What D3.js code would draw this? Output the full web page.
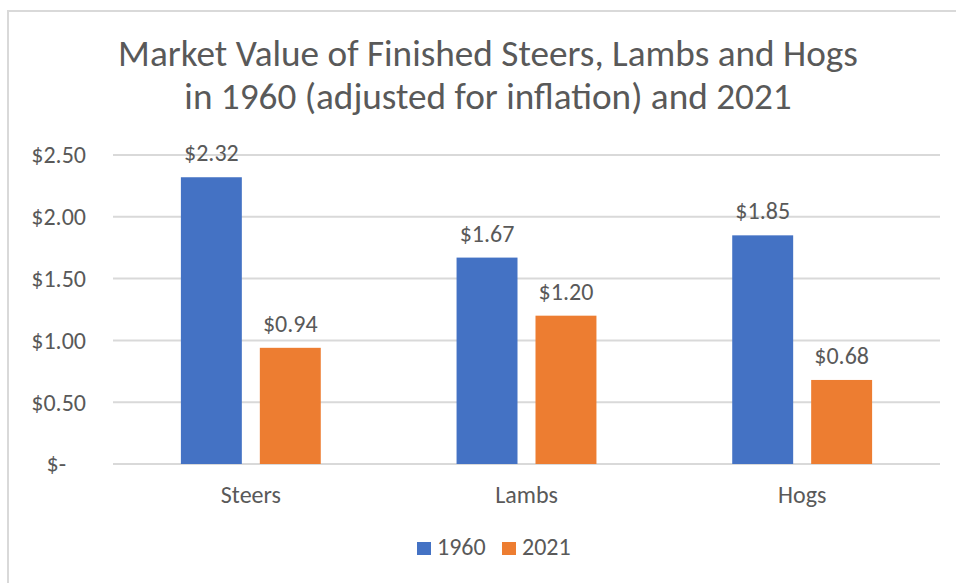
<!DOCTYPE html>
<meta charset="utf-8">
<body style="margin:0;background:#fff">
<script src="https://cdn.jsdelivr.net/npm/d3@7"></script>
<script>

var categories = ['Steers', 'Lambs', 'Hogs'];
var series = ['1960', '2021'];
var values1960 = [2.32, 1.67, 1.85];
var values2021 = [0.94, 1.20, 0.68];
var yTicks = [0, 0.5, 1, 1.5, 2, 2.5];
var titleLines = ['Market Value of Finished Steers, Lambs and Hogs',
                  'in 1960 (adjusted for inflation) and 2021'];

var W = 956, H = 583;
var colors = {'1960': '#4472C4', '2021': '#ED7D31'};
var txt = '#595959';
var font = 'Carlito, Calibri, "Open Sans", sans-serif';
var fsLabel = 24;

var svg = d3.select('body').append('svg')
    .attr('width', W).attr('height', H)
    .style('display', 'block')
    .attr('font-family', font);

// chart border (only top and left show)
svg.append('path')
  .attr('d', 'M 8 ' + H + ' L 8 11 L ' + W + ' 11')
  .attr('fill', 'none').attr('stroke', '#d9d9d9').attr('stroke-width', 2);

// title, sized so line one spans like the original
var title = svg.append('g');
var tfs = 30;
titleLines.forEach((t, i) => {
  var el = title.append('text')
    .text(t)
    .attr('x', 488).attr('y', 66 + i * 43)
    .attr('text-anchor', 'middle')
    .attr('fill', txt)
    .attr('font-size', tfs);
  if (i == 0) {
    tfs = 30 * 740 / el.node().getComputedTextLength();
    el.attr('font-size', tfs);
  }
});

var plot = {l: 113, r: 940, t: 155, b: 464};

var x0 = d3.scaleBand().domain(categories).range([plot.l, plot.r]);
var x1 = d3.scaleBand().domain(series).range([0, x0.bandwidth()])
    .paddingInner(0.228).paddingOuter(0.86);
var y = d3.scaleLinear().domain([0, 2.5]).range([plot.b, plot.t]);

// gridlines
svg.append('g')
  .selectAll('line').data(yTicks).enter().append('line')
  .attr('x1', plot.l).attr('x2', plot.r)
  .attr('y1', d => y(d)).attr('y2', d => y(d))
  .attr('stroke', '#d9d9d9').attr('stroke-width', 2);

// y axis labels
var yAxis = svg.append('g')
  .attr('transform', 'translate(86,0)')
  .call(d3.axisLeft(y).tickValues(yTicks).tickSize(0).tickPadding(0)
    .tickFormat(d => d == 0 ? '$-' : d3.format('$.2f')(d)));
yAxis.select('.domain').remove();
yAxis.selectAll('text')
  .attr('fill', txt).attr('font-size', fsLabel).attr('font-family', font)
  .attr('dy', '0.33em');
yAxis.selectAll('.tick').filter(d => d == 0).select('text').attr('x', -20);

var rows = categories.map((c, i) => ({cat: c, vals: [
  {s: '1960', v: values1960[i]}, {s: '2021', v: values2021[i]}]}));

var groups = svg.append('g').selectAll('g').data(rows).enter().append('g')
  .attr('transform', d => 'translate(' + x0(d.cat) + ',0)');

groups.selectAll('rect').data(d => d.vals).enter().append('rect')
  .attr('x', d => x1(d.s))
  .attr('width', x1.bandwidth())
  .attr('y', d => y(d.v))
  .attr('height', d => y(0) - y(d.v))
  .attr('fill', d => colors[d.s]);

groups.selectAll('text').data(d => d.vals).enter().append('text')
  .attr('x', d => x1(d.s) + x1.bandwidth() / 2)
  .attr('y', d => y(d.v) - 16)
  .attr('text-anchor', 'middle')
  .attr('fill', txt).attr('font-size', fsLabel)
  .text(d => d3.format('$.2f')(d.v));

// x axis labels
var xAxis = svg.append('g')
  .attr('transform', 'translate(0,' + plot.b + ')')
  .call(d3.axisBottom(x0).tickSize(0).tickPadding(0));
xAxis.select('.domain').remove();
xAxis.selectAll('text')
  .attr('fill', txt).attr('font-size', fsLabel).attr('font-family', font)
  .attr('dy', 0).attr('y', 39);

// legend
var leg = svg.append('g').selectAll('g').data(series).enter().append('g')
  .attr('transform', (d, i) => 'translate(' + (417 + i * 85) + ',542)');
leg.append('rect').attr('width', 14).attr('height', 13)
  .attr('fill', d => colors[d]);
leg.append('text').attr('x', 20).attr('y', 13)
  .attr('fill', txt).attr('font-size', fsLabel)
  .text(d => d);

</script>
</body>
